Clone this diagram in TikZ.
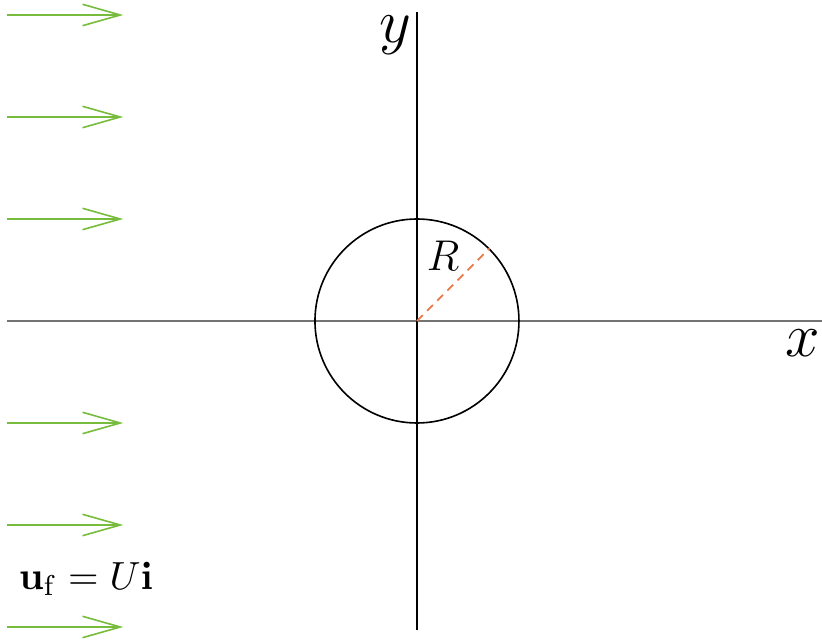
\documentclass[tikz,border=0pt]{standalone}
\usetikzlibrary{arrows.meta}
\definecolor{flowgreen}{RGB}{120,188,62}
\definecolor{radorange}{RGB}{232,120,72}
\tikzset{
  flowarrow/.style={draw=flowgreen, line width=0.45pt, -{Straight Barb[length=3.7mm,width=2.1mm]}},
  xaxis/.style={draw=black!55, line width=0.75pt},
  yaxis/.style={draw=black, line width=0.45pt},
  body/.style={draw=black, line width=0.45pt, circle, minimum size=2cm, inner sep=0pt},
  radius line/.style={draw=radorange, line width=0.5pt, dash pattern=on 2.3pt off 1.7pt},
  axlabel/.style={font=\LARGE, inner sep=0pt},
  smalllabel/.style={font=\fontsize{11.5}{14}\selectfont, inner sep=0pt},
  flowlabel/.style={font=\fontsize{11}{13}\selectfont, inner sep=0pt}
}
\begin{document}
\begin{tikzpicture}
\useasboundingbox (-4.088,-3.137) rectangle (3.971,3.147);
% axes
\coordinate (xl) at (-4.02,0);
\coordinate (xr) at (3.971,0);
\coordinate (yt) at (0,3.03);
\coordinate (yb) at (0,-3.03);
\draw[xaxis] (xl) -- (xr);
\draw[yaxis] (yb) -- (yt);
% cylinder
\coordinate (O) at (0,0);
\node[body] (c) at (O) {};
\draw[radius line] (O) -- (c.45);
% labels
\node[axlabel] (ylab) at (-0.216,2.80) {$y$};
\node[axlabel] (xlab) at (3.784,-0.22) {$x$};
\node[smalllabel] (Rlab) at (0.255,0.64) {$R$};
\node[flowlabel] (ulab) at (-3.245,-2.53) {$\mathbf{u}_\mathrm{f} = U\mathbf{i}$};
% flow arrows
\foreach \k in {3,2,1,-1,-2,-3} {
  \coordinate (s\k) at (-4.02,\k);
  \coordinate (e\k) at (-2.88,\k);
  \draw[flowarrow] (s\k) -- (e\k);
}
\end{tikzpicture}
\end{document}
